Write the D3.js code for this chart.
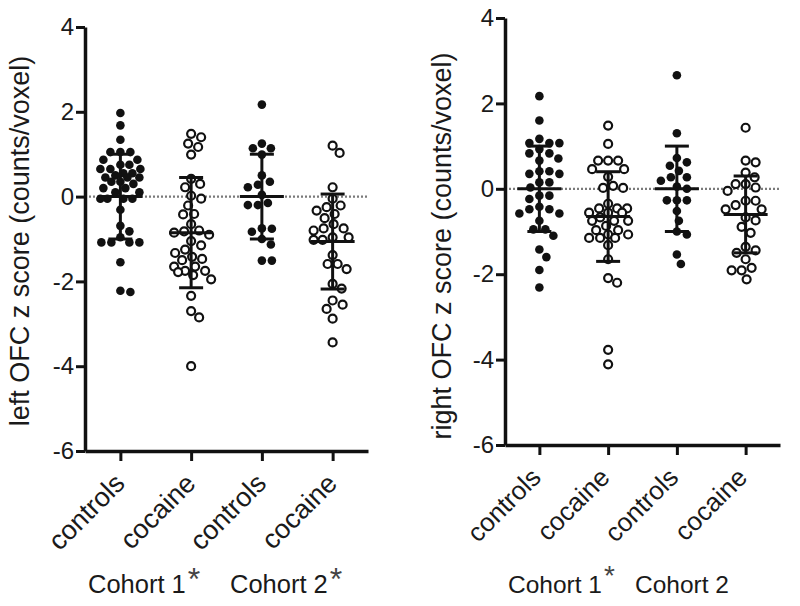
<!DOCTYPE html>
<html>
<head>
<meta charset="utf-8">
<script src="https://cdn.jsdelivr.net/npm/d3@7/dist/d3.min.js"></script>
<style>
  html, body { margin: 0; padding: 0; background: #fff; }
  svg { display: block; font-family: "Liberation Sans", Arial, Helvetica, sans-serif; }
</style>
</head>
<body>
<div id="chart"></div>
<script>
// values
const categories = ['controls', 'cocaine', 'controls', 'cocaine'];
const filled = [true, false, true, false];
const yTicks = [-6, -4, -2, 0, 2, 4];

const leftControls1 = [1.97, 1.68, 1.34, 1.05, 1.05, 1.05, 0.87, 0.87, 0.75, 0.75, 0.65, 0.65, 0.65, 0.55, 0.55,
  0.5, 0.45, 0.45, 0.45, 0.35, 0.35, 0.3, 0.2, 0.2, 0.1, 0.1, -0.05, -0.05, -0.05, -0.05, -0.31, -0.69, -0.82,
  -0.96, -1.08, -1.08, -1.08, -1.08, -1.55, -2.22, -2.25];
const leftCocaine1 = [1.48, 1.4, 1.25, 1.17, 0.99, 0.42, 0.3, 0.22, 0.02, -0.05, -0.21, -0.41, -0.42, -0.65, -0.8,
  -0.82, -0.85, -0.9, -1.05, -1.15, -1.25, -1.33, -1.42, -1.47, -1.5, -1.65, -1.65, -1.75, -1.75, -1.78, -1.85,
  -1.95, -2.34, -2.7, -2.85, -4.0];
const leftControls2 = [2.17, 1.25, 1.14, 1.14, 0.99, 0.5, 0.35, 0.28, 0.22, 0.04, -0.15, -0.2, -0.2, -0.76, -0.75,
  -0.83, -1.0, -1.13, -1.51, -1.51];
const leftCocaine2 = [1.2, 1.03, 0.22, -0.05, -0.21, -0.25, -0.33, -0.41, -0.51, -0.65, -0.75, -0.75, -0.8, -0.96,
  -0.96, -1.02, -1.02, -1.38, -1.59, -1.59, -1.71, -2.06, -2.17, -2.45, -2.55, -2.65, -2.88, -3.44];
const leftMeans = [0, -0.85, 0, -1.06];
const leftSDs = [1.0, 1.3, 1.0, 1.12];

const rightControls1 = [2.17, 1.6, 1.17, 1.07, 1.07, 1.07, 0.93, 0.83, 0.83, 0.71, 0.66, 0.41, 0.41, 0.35, 0.35,
  0.15, 0.15, 0.03, -0.16, -0.16, -0.24, -0.42, -0.48, -0.48, -0.58, -0.58, -0.75, -0.95, -0.95, -1.1, -1.42,
  -1.6, -1.9, -2.31];
const rightCocaine1 = [1.48, 1.05, 0.66, 0.66, 0.66, 0.46, 0.46, 0.28, 0.07, 0.02, 0.02, -0.35, -0.46, -0.46, -0.46,
  -0.56, -0.56, -0.56, -0.67, -0.75, -0.75, -0.75, -0.87, -0.97, -0.97, -1.07, -1.07, -1.15, -1.15, -1.15, -1.32,
  -1.65, -2.09, -2.2, -3.77, -4.11];
const rightControls2 = [2.66, 1.3, 0.72, 0.62, 0.54, 0.42, 0.27, 0.27, 0.19, 0.05, 0, -0.27, -0.27, -0.27, -0.52,
  -0.75, -1.0, -1.07, -1.54, -1.76];
const rightCocaine2 = [1.43, 0.66, 0.62, 0.38, 0.27, 0.11, 0.11, 0.03, -0.05, -0.28, -0.28, -0.38, -0.48, -0.48,
  -0.67, -0.74, -0.89, -1.03, -1.36, -1.44, -1.5, -1.65, -1.85, -1.91, -1.91, -2.12];
const rightMeans = [0, -0.65, 0, -0.6];
const rightSDs = [1.0, 1.05, 1.0, 0.9];

const width = 800;
const height = 606;

const svg = d3.select('#chart')
  .append('svg')
  .attr('width', width)
  .attr('height', height);

// spread close values sideways, inside a limited width (dots may overlap a bit)
function swarm(values, y, gap, maxOff) {
  const pts = values.map(v => ({ v: v, y: y(v), dx: 0 }))
    .sort((a, b) => a.y - b.y);
  const placed = [];
  const offsets = [0];
  for (let k = 1; k <= maxOff; k++) offsets.push(k, -k);
  pts.forEach(p => {
    let best = 0, bestD = -1;
    for (const off of offsets) {
      let minD = Infinity;
      placed.forEach(q => {
        const d = Math.hypot(q.dx - off, q.y - p.y);
        if (d < minD) minD = d;
      });
      if (minD >= gap) { best = off; bestD = minD; break; }
      if (minD > bestD + 0.5) { best = off; bestD = minD; }
    }
    p.dx = best;
    placed.push(p);
  });
  return pts;
}

function drawPanel(opt) {
  const g = svg.append('g');

  const y = d3.scaleLinear().domain([-6, 4]).range([opt.bottom, opt.top]);
  const x = d3.scalePoint()
    .domain(d3.range(categories.length))
    .range([opt.left, opt.right])
    .padding(0.5);

  // zero reference line
  g.append('line')
    .attr('x1', opt.left).attr('x2', opt.right)
    .attr('y1', y(0)).attr('y2', y(0))
    .attr('stroke', '#7a7a7a')
    .attr('stroke-width', 2.2)
    .attr('stroke-dasharray', '2,2');

  // points
  opt.groups.forEach((vals, i) => {
    const pts = swarm(vals, y, 10, 20);
    g.selectAll(null)
      .data(pts)
      .enter()
      .append('circle')
      .attr('cx', d => x(i) + d.dx)
      .attr('cy', d => d.y)
      .attr('r', filled[i] ? 4.3 : 4)
      .attr('fill', filled[i] ? '#111' : '#fff')
      .attr('stroke', '#111')
      .attr('stroke-width', filled[i] ? 0 : 2.2);
  });

  // mean and SD bars
  opt.means.forEach((m, i) => {
    const cx = x(i);
    const hi = y(m + opt.sds[i]);
    const lo = y(m - opt.sds[i]);
    g.append('line').attr('x1', cx).attr('x2', cx).attr('y1', hi).attr('y2', lo)
      .attr('stroke', '#111').attr('stroke-width', 3);
    g.append('line').attr('x1', cx - 22).attr('x2', cx + 22).attr('y1', y(m)).attr('y2', y(m))
      .attr('stroke', '#111').attr('stroke-width', 3);
    [hi, lo].forEach(yy => {
      g.append('line').attr('x1', cx - 12).attr('x2', cx + 12).attr('y1', yy).attr('y2', yy)
        .attr('stroke', '#111').attr('stroke-width', 3);
    });
  });

  // y axis
  const yAxis = g.append('g')
    .attr('transform', `translate(${opt.left},0)`)
    .call(d3.axisLeft(y).tickValues(yTicks).tickSizeInner(9).tickSizeOuter(0).tickPadding(2)
      .tickFormat(d => String(d)));
  yAxis.select('.domain').attr('stroke', '#111').attr('stroke-width', 3.5);
  yAxis.selectAll('.tick line').attr('stroke', '#111').attr('stroke-width', 3);
  yAxis.selectAll('.tick text').attr('font-size', opt.tickFont).attr('fill', '#1a1a1a')
    .attr('font-family', '"Liberation Sans", Arial, sans-serif');

  // x axis
  const xAxis = g.append('g')
    .attr('transform', `translate(0,${opt.bottom})`)
    .call(d3.axisBottom(x).tickSizeInner(10).tickSizeOuter(0).tickFormat(''));
  xAxis.select('.domain').attr('stroke', '#111').attr('stroke-width', 3.5);
  xAxis.selectAll('.tick line').attr('stroke', '#111').attr('stroke-width', 3);

  // rotated category labels
  categories.forEach((c, i) => {
    const ax = x(i) + opt.labelDx;
    const ay = opt.bottom + opt.labelDy;
    g.append('text')
      .attr('transform', `translate(${ax},${ay}) rotate(-45)`)
      .attr('text-anchor', 'end')
      .attr('font-size', opt.catFont)
      .attr('fill', '#1a1a1a')
      .text(c);
  });

  // y title
  g.append('text')
    .attr('transform', `translate(${opt.titleX},${opt.titleY}) rotate(-90)`)
    .attr('text-anchor', 'middle')
    .attr('font-size', opt.titleFont)
    .attr('fill', '#1a1a1a')
    .text(opt.title);

  return g;
}

const leftPanel = drawPanel({
  left: 85, right: 368, top: 27, bottom: 451,
  groups: [leftControls1, leftCocaine1, leftControls2, leftCocaine2],
  means: leftMeans, sds: leftSDs,
  tickFont: 24, catFont: 27, titleFont: 27,
  labelDx: 6, labelDy: 34,
  title: 'left OFC z score (counts/voxel)', titleX: 29, titleY: 241
});

const rightPanel = drawPanel({
  left: 505, right: 780, top: 18, bottom: 445,
  groups: [rightControls1, rightCocaine1, rightControls2, rightCocaine2],
  means: rightMeans, sds: rightSDs,
  tickFont: 24, catFont: 26, titleFont: 27,
  labelDx: 3, labelDy: 34,
  title: 'right OFC z score (counts/voxel)', titleX: 451, titleY: 246
});

// cohort captions
function cohort(g, x, y, size, label, star, starSize, starDy) {
  const t = g.append('text')
    .attr('x', x).attr('y', y)
    .attr('font-size', size)
    .attr('fill', '#1a1a1a')
    .text(label);
  if (star) {
    t.append('tspan')
      .attr('font-size', starSize)
      .attr('dy', starDy)
      .attr('dx', 2)
      .attr('fill', '#444')
      .text('*');
  }
}
cohort(leftPanel, 88, 593, 25.5, 'Cohort 1', true, 32, -3);
cohort(leftPanel, 230, 593, 25.5, 'Cohort 2', true, 32, -3);
cohort(rightPanel, 508, 593, 24.5, 'Cohort 1', true, 28, -8);
cohort(rightPanel, 635, 593, 24.5, 'Cohort 2', false);
</script>
</body>
</html>
